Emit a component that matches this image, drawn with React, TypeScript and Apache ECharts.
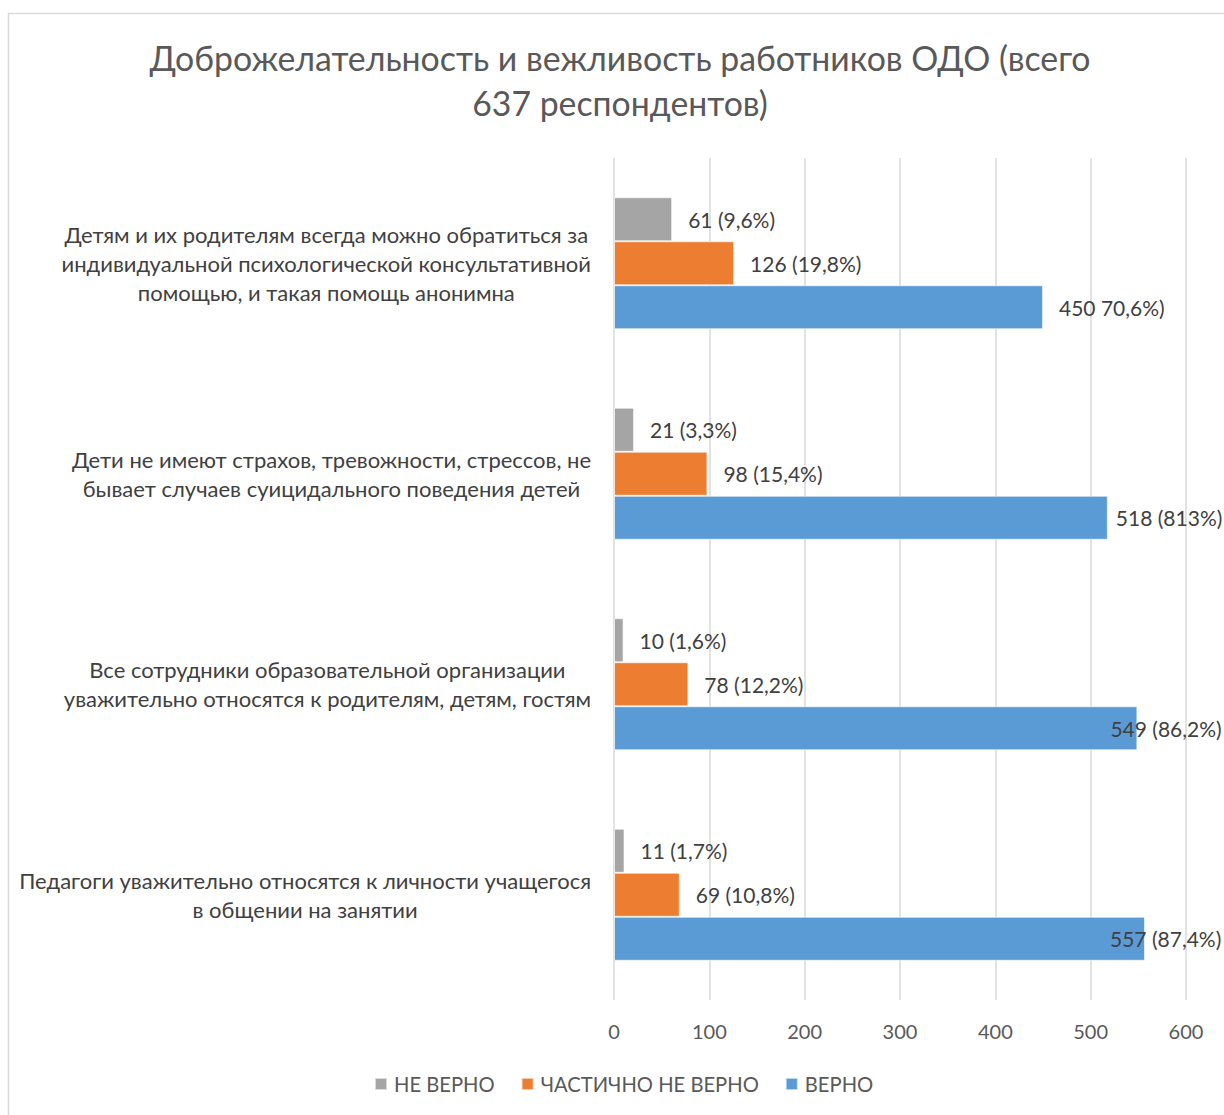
import React, { useEffect, useRef } from "react";
import * as echarts from "echarts";

const titleText = "Доброжелательность и вежливость работников ОДО (всего\n637 респондентов)";

const categories = [
  "Детям и их родителям всегда можно обратиться за\nиндивидуальной психологической консультативной\nпомощью, и такая помощь анонимна",
  "Дети не имеют страхов, тревожности, стрессов, не\nбывает случаев суицидального поведения детей",
  "Все сотрудники образовательной организации\nуважительно относятся к родителям, детям, гостям",
  "Педагоги уважительно относятся к личности учащегося\nв общении на занятии",
];

const seriesNames = ["НЕ ВЕРНО", "ЧАСТИЧНО НЕ ВЕРНО", "ВЕРНО"];
const notTrue = [61, 21, 10, 11];
const partlyNotTrue = [126, 98, 78, 69];
const trueVals = [450, 518, 549, 557];

const notTrueLabels = ["61 (9,6%)", "21 (3,3%)", "10 (1,6%)", "11 (1,7%)"];
const partlyLabels = ["126 (19,8%)", "98 (15,4%)", "78 (12,2%)", "69 (10,8%)"];
const trueLabels = ["450 70,6%)", "518 (813%)", "549 (86,2%)", "557 (87,4%)"];

const xTicks = [0, 100, 200, 300, 400, 500, 600];

const colors = ["#A5A5A5", "#ED7D31", "#5B9BD5"];
const FONT = "Lato, 'Open Sans', sans-serif";

export default function App() {
  const ref = useRef<HTMLDivElement>(null);
  useEffect(() => {
    if (!ref.current) return;
    const chart = echarts.init(ref.current, undefined, { renderer: "svg" });

    // label shifts for labels that Excel pulled back inside the chart area
    const trueShift = [0, -8, -43, -51];

    const mk = (name: string, vals: number[], labels: string[], color: string, shifts?: number[]) => ({
      name,
      type: "bar",
      barWidth: 44,
      barGap: "0%",
      itemStyle: { color, borderColor: "rgba(255,255,255,0.6)", borderWidth: 1 },
      label: {
        show: true,
        position: "right",
        distance: 16,
        color: "#404040",
        fontSize: 21,
        fontFamily: FONT,
      },
      data: vals.map((v, i) => ({
        value: v,
        label: {
          formatter: labels[i],
          offset: [shifts ? shifts[i] : 0, 0],
        },
      })),
    });

    chart.setOption({
      animation: false,
      backgroundColor: "#ffffff",
      color: colors,
      textStyle: { fontFamily: FONT },
      title: {
        text: titleText,
        left: 620,
        top: 35,
        padding: 0,
        textAlign: "center",
        textStyle: {
          fontFamily: FONT,
          fontSize: 33.8,
          fontWeight: "normal",
          color: "#595959",
          lineHeight: 45,
        },
      },
      graphic: [
        {
          type: "rect",
          shape: { x: 8.5, y: 13.5, width: 1300, height: 1200 },
          style: { fill: "none", stroke: "#d9d9d9", lineWidth: 1.5 },
          silent: true,
          z: -1,
        },
      ],
      legend: {
        data: seriesNames,
        left: 374,
        top: 1074,
        padding: 0,
        itemWidth: 12,
        itemHeight: 12,
        itemGap: 26,
        icon: "rect",
        textStyle: { fontFamily: FONT, fontSize: 20.2, color: "#595959", padding: [0, 0, 0, 2] },
      },
      grid: { left: 614, right: 38, top: 158, bottom: 115, containLabel: false },
      xAxis: {
        type: "value",
        min: 0,
        max: 600,
        interval: 100,
        axisLine: { show: false },
        axisTick: { show: false },
        splitLine: { show: true, lineStyle: { color: "#d9d9d9", width: 1.5 } },
        axisLabel: {
          color: "#595959",
          fontSize: 20,
          fontFamily: FONT,
          margin: 21,
          formatter: (v: number) => (xTicks.includes(v) ? String(v) : ""),
        },
      },
      yAxis: {
        type: "category",
        inverse: true,
        data: categories,
        axisLine: { show: false },
        axisTick: { show: false },
        axisLabel: {
          margin: 23,
          align: "right",
          formatter: (v: string) => v.split("\n").map((l) => `{c|${l}}`).join("\n"),
          rich: {
            c: {
              align: "center",
              fontSize: 22,
              fontFamily: FONT,
              color: "#404040",
              lineHeight: 29,
            },
          },
        },
      },
      series: [
        mk(seriesNames[0], notTrue, notTrueLabels, colors[0]),
        mk(seriesNames[1], partlyNotTrue, partlyLabels, colors[1]),
        mk(seriesNames[2], trueVals, trueLabels, colors[2], trueShift),
      ],
    });
    return () => chart.dispose();
  }, []);
  return (
    <div
      ref={ref}
      style={{ position: "fixed", left: 0, top: 0, width: 1224, height: 1115, background: "#fff" }}
    />
  );
}
